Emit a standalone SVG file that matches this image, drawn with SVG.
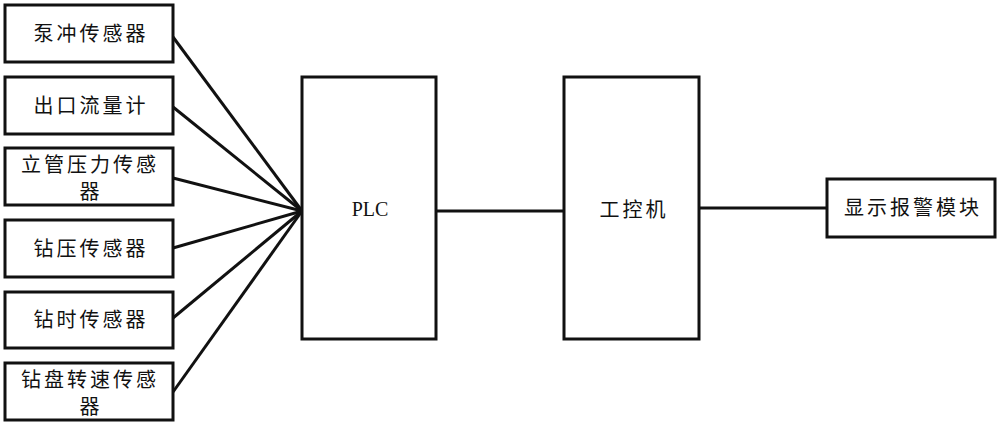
<svg xmlns="http://www.w3.org/2000/svg" width="1000" height="426" viewBox="0 0 1000 426">
<style>
.box{fill:#fff;stroke:#111;stroke-width:3}
.cn{font-family:"Noto Sans CJK SC","Noto Sans",sans-serif;font-size:20px;letter-spacing:3px;fill:#111;text-anchor:middle}
.en{font-family:"Liberation Serif",serif;font-size:20px;fill:#111;text-anchor:middle}
.ln{stroke:#111;stroke-width:3;fill:none}
</style>
<rect width="1000" height="426" fill="#fff"/>
<g id="connectors">
<line class="ln" x1="173" y1="37" x2="302" y2="211"/>
<line class="ln" x1="173" y1="107" x2="302" y2="211"/>
<line class="ln" x1="173" y1="178" x2="302" y2="211"/>
<line class="ln" x1="173" y1="248" x2="302" y2="211"/>
<line class="ln" x1="173" y1="318" x2="302" y2="211"/>
<line class="ln" x1="173" y1="392" x2="302" y2="211"/>
<line class="ln" stroke-width="2.5" x1="436" y1="211" x2="564" y2="211"/>
<line class="ln" stroke-width="2.5" x1="699" y1="208" x2="827" y2="208"/>
</g>
<g id="n1"><rect class="box" x="5" y="5" width="168" height="57"/><text class="cn" x="91" y="41">泵冲传感器</text></g>
<g id="n2"><rect class="box" x="5" y="77" width="168" height="57"/><text class="cn" x="91" y="113">出口流量计</text></g>
<g id="n3"><rect class="box" x="5" y="148" width="168" height="57"/><text class="cn" x="90" y="172">立管压力传感</text><text class="cn" x="91" y="199">器</text></g>
<g id="n4"><rect class="box" x="5" y="220" width="168" height="57"/><text class="cn" x="91" y="256">钻压传感器</text></g>
<g id="n5"><rect class="box" x="5" y="292" width="168" height="56"/><text class="cn" x="91" y="327">钻时传感器</text></g>
<g id="n6"><rect class="box" x="5" y="363" width="168" height="57"/><text class="cn" x="90" y="387">钻盘转速传感</text><text class="cn" x="91" y="414">器</text></g>
<g id="plc"><rect class="box" x="302" y="77" width="134" height="262"/><text class="en" x="370" y="216">PLC</text></g>
<g id="ipc"><rect class="box" x="564" y="77" width="135" height="262"/><text class="cn" x="634" y="217">工控机</text></g>
<g id="alarm"><rect class="box" x="827" y="179" width="168" height="58"/><text class="cn" x="913" y="215">显示报警模块</text></g>
</svg>
